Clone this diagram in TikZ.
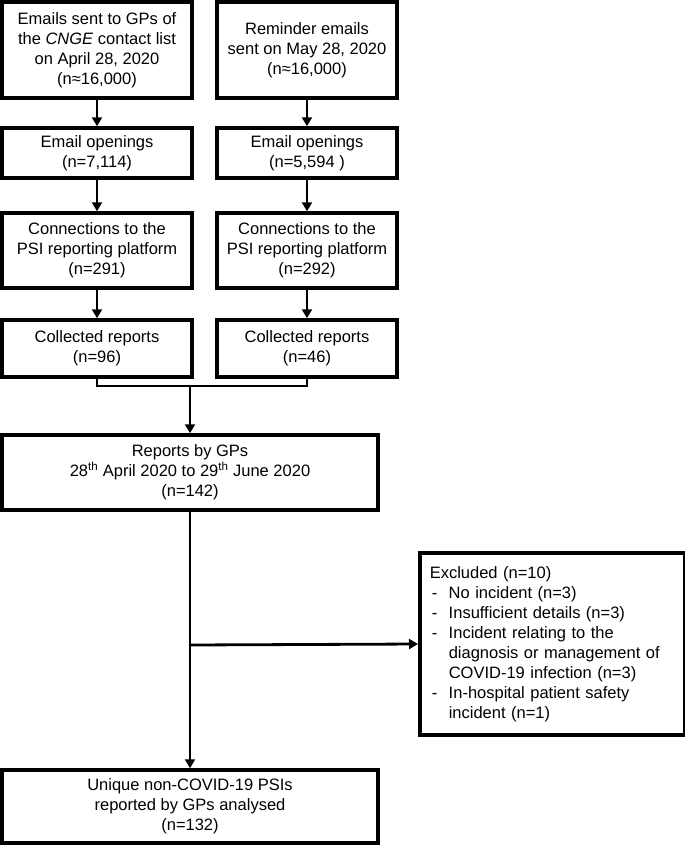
\documentclass[tikz,border=0pt]{standalone}
\usepackage{fontspec}
\setmainfont{Liberation Sans}
\usetikzlibrary{arrows.meta}
\begin{document}
\begin{tikzpicture}[x=1pt,y=-1pt,
  box/.style={draw,line width=3.5pt,inner sep=0pt,align=center,
    font=\fontsize{16.5}{20}\selectfont},
  conn/.style={line width=2.5pt},
  arr/.style={line width=2.8pt,-{Triangle[length=9pt,width=10pt]}}]
\useasboundingbox (0,0) rectangle (685,847);
\node[box,minimum width=190pt,minimum height=96pt] (a1) at (97,50)
  {Emails sent to GPs of\\the \textit{CNGE} contact list\\on April 28, 2020\\(n≈16,000)};
\node[box,minimum width=180pt,minimum height=96pt] (b1) at (307,50)
  {Reminder emails\\sent on May 28, 2020\\(n≈16,000)};
\node[box,minimum width=190pt,minimum height=50pt] (a2) at (97,153)
  {Email openings\\(n=7,114)};
\node[box,minimum width=180pt,minimum height=50pt] (b2) at (307,153)
  {Email openings\\(n=5,594 )};
\node[box,minimum width=190pt,minimum height=75pt] (a3) at (97,250.5)
  {Connections to the\\PSI reporting platform\\(n=291)};
\node[box,minimum width=180pt,minimum height=75pt] (b3) at (307,250.5)
  {Connections to the\\PSI reporting platform\\(n=292)};
\node[box,minimum width=190pt,minimum height=57pt] (a4) at (97,348.5)
  {Collected reports\\(n=96)};
\node[box,minimum width=180pt,minimum height=57pt] (b4) at (307,348.5)
  {Collected reports\\(n=46)};
\node[box,minimum width=376pt,minimum height=75pt] (r) at (190,472.5)
  {Reports by GPs\\28\textsuperscript{th} April 2020 to 29\textsuperscript{th} June 2020\\(n=142)};
\node[box,minimum width=265pt,minimum height=182pt,align=left,anchor=west,text width=245pt] (ex) at (418,644)
  {Excluded (n=10)\\
   \makebox[19pt][l]{\hspace{2pt}-}No incident (n=3)\\
   \makebox[19pt][l]{\hspace{2pt}-}Insufficient details (n=3)\\
   \makebox[19pt][l]{\hspace{2pt}-}Incident relating to the\\
   \hspace*{19pt}diagnosis or management of\\
   \hspace*{19pt}COVID-19 infection (n=3)\\
   \makebox[19pt][l]{\hspace{2pt}-}In-hospital patient safety\\
   \hspace*{19pt}incident (n=1)};
\node[box,minimum width=376pt,minimum height=73pt] (f) at (190,806.5)
  {Unique non-COVID-19 PSIs\\reported by GPs analysed\\(n=132)};
\coordinate (j) at (190,386);
\coordinate (k) at (190,645);
\draw[arr] (a1) -- (a2);
\draw[arr] (b1) -- (b2);
\draw[arr] (a2) -- (a3);
\draw[arr] (b2) -- (b3);
\draw[arr] (a3) -- (a4);
\draw[arr] (b3) -- (b4);
\draw[conn,line join=miter] (a4.south) |- (j) -| (b4.south);
\draw[arr] (j) -- (r.north);
\draw[arr] (r.south) -- (f.north);
\draw[arr] (k) -- (ex.west);
\end{tikzpicture}
\end{document}
